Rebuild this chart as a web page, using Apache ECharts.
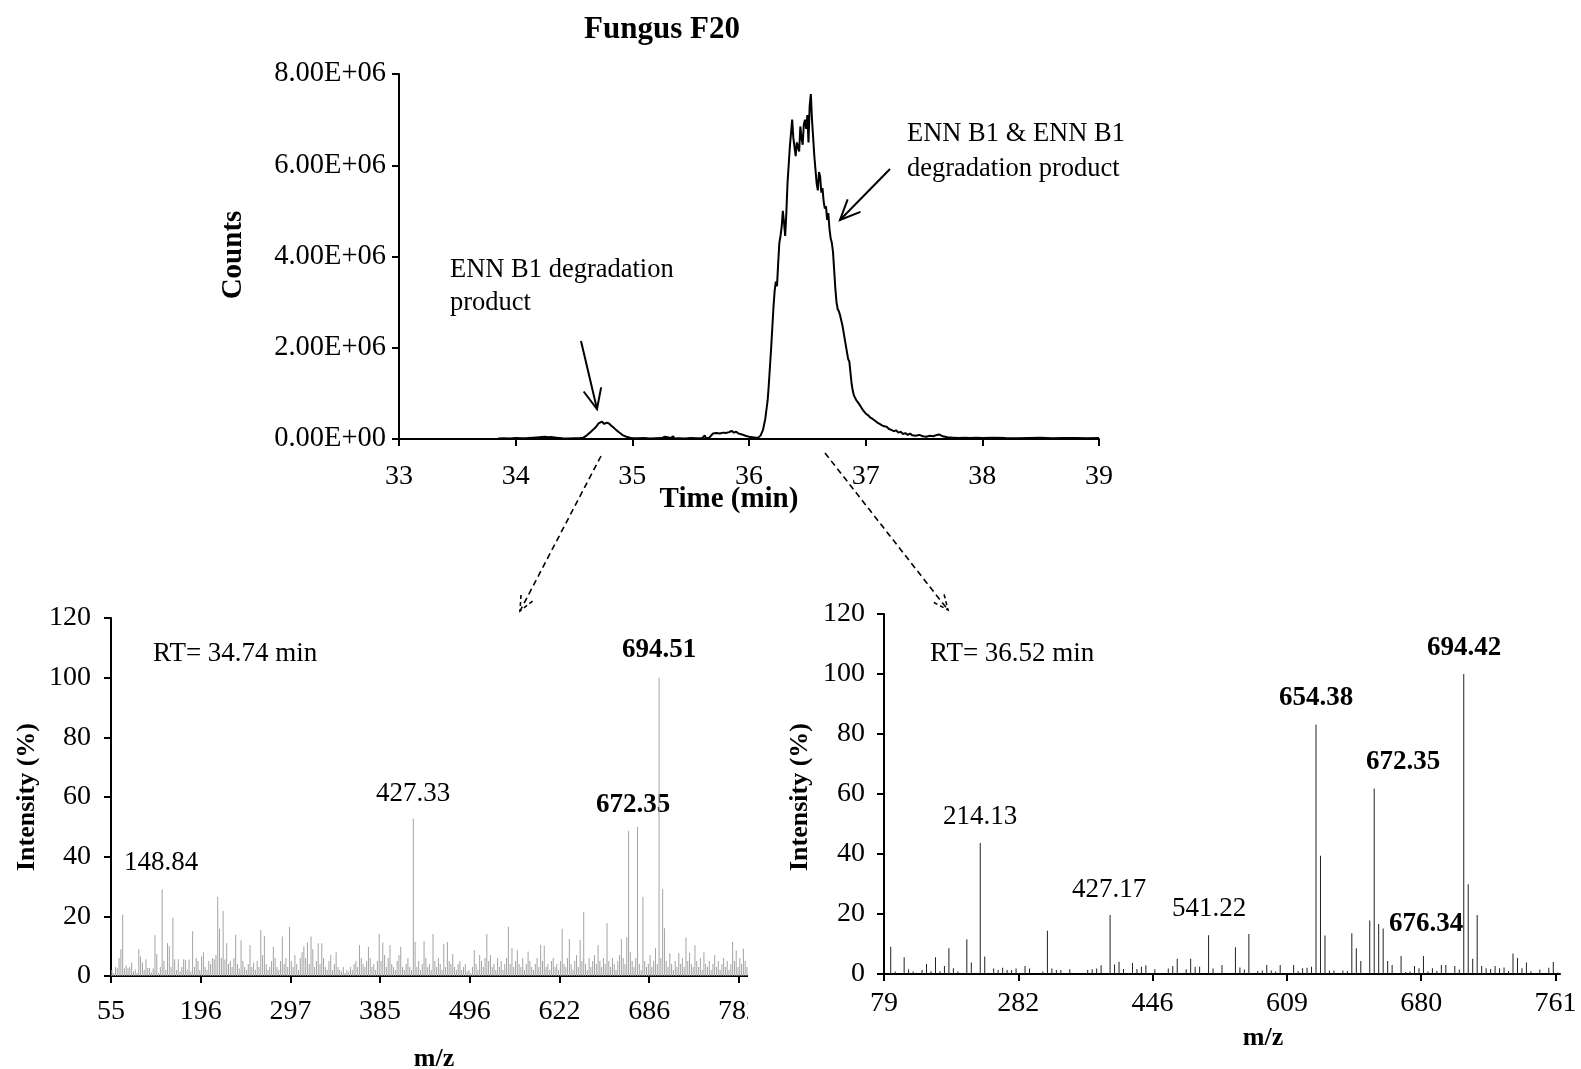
<!DOCTYPE html>
<html><head><meta charset="utf-8">
<script src="https://cdn.jsdelivr.net/npm/echarts@6/dist/echarts.min.js"></script>
<style>
html,body{margin:0;padding:0;background:#fff;}
#main{position:absolute;left:0;top:0;width:1581px;height:1069px;}
#left{position:absolute;left:0;top:560px;width:748px;height:509px;}
</style></head><body>
<div id="main"></div><div id="left"></div>
<script>
// ---------- DATA ----------
// Chromatogram (time in min, counts in millions)
const chromTime = [
33.85,33.90,33.95,34.00,34.05,34.10,34.15,34.20,34.25,34.28,34.30,34.35,34.40,34.45,34.50,34.55,
34.58,34.61,34.64,34.67,34.69,34.71,34.72,34.74,34.76,34.78,34.80,34.82,34.84,34.86,34.88,34.90,34.92,34.95,34.98,35.00,
35.05,35.10,35.15,35.20,35.25,35.28,35.29,35.33,35.35,35.36,35.40,35.45,35.50,35.55,35.60,35.62,35.63,35.66,
35.69,35.72,35.75,35.78,35.80,35.83,35.85,35.87,35.89,35.91,35.94,35.97,36.00,36.03,36.06,36.08,
36.10,36.12,36.14,36.16,36.17,36.18,36.19,36.20,36.21,36.22,36.23,36.24,36.25,36.26,36.27,36.28,36.29,36.30,36.31,36.32,
36.33,36.35,36.37,36.38,36.40,36.41,36.43,36.44,36.45,36.46,36.47,36.48,36.49,36.50,36.51,36.52,36.53,36.54,36.55,36.56,36.57,36.58,
36.59,36.60,36.61,36.62,36.63,36.64,36.65,36.66,36.67,36.68,36.69,36.70,36.71,36.72,36.73,36.74,36.75,36.76,36.77,36.78,
36.80,36.82,36.84,36.85,36.86,36.87,36.88,36.89,36.90,36.92,36.94,36.96,36.98,37.00,37.02,37.04,37.06,37.08,
37.10,37.12,37.14,37.16,37.18,37.20,37.22,37.24,37.26,37.28,37.30,37.32,37.34,37.36,37.38,37.40,37.43,37.46,37.49,37.52,
37.55,37.58,37.61,37.63,37.66,37.70,37.75,37.80,37.85,37.90,37.95,38.00,38.10,38.20,38.30,38.40,38.50,38.60,38.70,38.80,38.90,39.00];
const countsMillions = [
0.01,0.015,0.01,0.02,0.015,0.02,0.03,0.04,0.05,0.04,0.045,0.03,0.015,0.01,0.015,0.02,
0.03,0.08,0.15,0.22,0.27,0.34,0.30,0.38,0.33,0.36,0.34,0.29,0.25,0.20,0.16,0.12,0.08,0.05,0.03,0.02,
0.015,0.02,0.01,0.015,0.02,0.05,0.01,0.02,0.06,0.01,0.015,0.01,0.02,0.015,0.02,0.08,0.02,0.03,
0.12,0.13,0.12,0.14,0.13,0.15,0.18,0.14,0.16,0.12,0.10,0.07,0.05,0.04,0.03,0.03,
0.08,0.20,0.45,0.85,1.20,1.60,2.00,2.45,2.90,3.25,3.45,3.35,3.85,4.30,4.45,4.65,5.00,4.75,4.45,4.95,
5.60,6.40,7.00,6.60,6.20,6.50,6.30,6.85,6.60,6.45,6.90,7.00,6.80,7.10,6.50,7.30,7.56,7.00,6.60,6.20,5.90,5.60,
5.45,5.85,5.75,5.40,5.50,5.20,5.05,5.10,4.80,4.95,4.60,4.40,4.30,4.10,3.70,3.30,3.00,2.85,2.80,2.72,
2.50,2.20,1.90,1.75,1.70,1.45,1.20,1.05,0.95,0.85,0.78,0.70,0.62,0.56,0.52,0.47,0.44,0.40,
0.36,0.33,0.30,0.28,0.27,0.22,0.20,0.17,0.19,0.14,0.16,0.11,0.13,0.09,0.12,0.08,0.07,0.09,0.06,0.05,
0.07,0.06,0.09,0.10,0.06,0.04,0.03,0.02,0.03,0.02,0.025,0.02,0.03,0.02,0.015,0.02,0.025,0.015,0.02,0.02,0.015,0.02];
const topYLabels = ['0.00E+00','2.00E+06','4.00E+06','6.00E+06','8.00E+06'];

// Left spectrum (RT 34.74 min): relative intensity per ion, in axis order
const leftXLabels = ['55','196','297','385','496','622','686','782',''];
const leftIntensity = [
2,1,3,2.6,6,9,20.5,2.5,3.5,2.6,3,4.5,1.5,2.2,1,9,6.5,4.5,2,5.6,2.7,2.6,1.2,2.5,13.7,7.4,1,3,29,5.1,2,11,10,3,19.5,5.6,2,5.6,1.5,3,5.6,5.3,2,5.5,1.5,15,3,6,5,2,
6.5,8,3,2,5,4,6,5.6,7,26.6,15.8,6,21.8,5.5,11,4,5,3,6,13.8,4,2.5,12,5,3,2,4,10.4,3,4.5,2,5,3,15.4,7,13.4,4,2,3,5,9.8,6,3,2,5,13.2,4,6,3,16.4,
5,3,7,4,2,6,8,10,6,11.2,4,13.2,9,3,5,11,4,11,6,3,2,5,7,2,4,8,3,2,1.5,3,1,2,1.5,3,2,4,5,3,10.4,6,4,3,5,9.8,6,3,4,2,5,14,
5,11.2,7,3,6,10.4,4,3,2,5,7,9.8,3,2,4,6,3,2,52.7,11.5,3,5,2,4,11.7,6,3,4,2,14.1,5,3,6,4,2,10.7,3,11.4,5,4,7.4,3,2,4,5,2,3,4,1.5,2,
1,3,8.7,4,2,7,5,3,6,14.1,5,7,3,4,2,6,3,5,2,4,6,16.5,4,9.4,3,5,8.6,4,3,6,2,4,8.2,5,3,2,4,6,3,10.4,5,10.1,3,4,2,5,6,3,4,2,
5,15.8,4,3,6,12.4,4,2,5,7,3,12.1,5,21.5,4,2,6,3,5,7,4,10.4,5,3,6,4,17.8,5,3,6,4,2,5,7,12.3,6,4,13,48.6,8,5,3,6,50,4,2,26.6,5,3,4,
7,3,5,9.4,4,100,6,29.2,16,5,3,7.6,4,2,5,3,7.6,4,6,3,12.9,5,7.8,4,3,10.3,5,3,6,2,8,4,3,5,2,4,7,3,5,2,4,6,3,5,2,4,11.4,5,8.6,3,
6,4,9.1,5,3,7,4];

// Right spectrum (RT 36.52 min)
const rightXLabels = ['79','282','446','609','680','761'];
const rightIntensity = [
0,9.1,0.8,0,5.6,1.6,0.8,0,1.3,3.3,0.9,5.6,0.9,2.7,8.6,1.9,0.8,0,11.6,3.8,0,43.7,5.8,0,1.8,1.3,2.1,1.3,1.3,1.8,
0,2.7,1.8,0,0,0.8,14.4,1.8,1.3,1.3,0,1.6,0,0,0,1.3,1.6,1.8,2.9,0,19.7,3.2,4.1,1.7,0,3.7,1.7,2.4,2.9,0,
1.6,0,0,1.8,2.7,5.1,0,1.6,5.1,2.4,2.4,0,12.9,1.8,0,3,0,0,8.9,2.2,1.5,13.3,0,1,1.2,3,1.2,0.8,3,0,
0,3,1,1.9,2.1,2.4,83.2,39.4,12.8,1.2,1.2,0,1.2,1,13.6,8.6,4.3,0,17.8,61.8,16.7,15.2,4.3,3,0,6,0.7,0.8,2.7,1.9,
6,0.8,1.9,1,3,3,0,2.7,1.5,100,29.9,5.1,19.7,2.7,1.9,1.7,2.7,1.9,2.2,1,6.8,5.3,1.9,3.8,0.9,0,1.5,0,2.1,4,
0.5];

// ---------- RENDER ----------
const serif = '"Liberation Serif","Times New Roman",serif';
const black = '#000';
function axisLine(){return {show:true,onZero:false,lineStyle:{color:black,width:2}};}
function axisTick(len){return {show:true,length:len,inside:false,lineStyle:{color:black,width:2}};}

const main = echarts.init(document.getElementById('main'));

function txt(x,y,s,o){
  o=o||{};
  return {type:'text',x:x,y:y,z:100,rotation:o.rot||0,
    style:{text:s,fill:black,fontFamily:serif,fontSize:o.size||27,fontWeight:o.bold?'bold':'normal',
      align:o.align||'center',verticalAlign:'middle',textAlign:o.align||'center',textVerticalAlign:'middle'}};
}
function arrow(x1,y1,x2,y2,dashed){
  const a=Math.atan2(y2-y1,x2-x1), L=dashed?16:22, w=0.42;
  const h1=[x2-L*Math.cos(a-w),y2-L*Math.sin(a-w)], h2=[x2-L*Math.cos(a+w),y2-L*Math.sin(a+w)];
  const st={stroke:black,lineWidth:dashed?1.6:2,fill:null,lineDash:dashed?[6,4]:null};
  return [{type:'line',z:100,shape:{x1:x1,y1:y1,x2:x2,y2:y2},style:st},
          {type:'polyline',z:100,shape:{points:[h1,[x2,y2],h2]},style:{stroke:black,lineWidth:dashed?1.6:2,fill:null,lineDash:dashed?[4,3]:null}}];
}

const graphics = [
  txt(662,30,'Fungus F20',{bold:true,size:31}),
  txt(234,255,'Counts',{bold:true,size:29,rot:Math.PI/2}),
  txt(729,500,'Time (min)',{bold:true,size:29}),
  txt(450,270,'ENN B1 degradation',{align:'left',size:26.5}),
  txt(450,303,'product',{align:'left',size:26.5}),
  txt(907,134,'ENN B1 & ENN B1',{align:'left',size:26.5}),
  txt(907,169,'degradation product',{align:'left',size:26.5}),
  // left spectrum texts
  txt(27,797,'Intensity (%)',{bold:true,size:26,rot:Math.PI/2}),
  txt(434,1059,'m/z',{bold:true,size:26}),
  txt(153,654,'RT= 34.74 min',{align:'left',size:27}),
  txt(659,650,'694.51',{bold:true,size:27}),
  txt(633,805,'672.35',{bold:true,size:27}),
  txt(413,794,'427.33',{size:27}),
  txt(161,863,'148.84',{size:27}),
  // right spectrum texts
  txt(800,797,'Intensity (%)',{bold:true,size:26,rot:Math.PI/2}),
  txt(1263,1038,'m/z',{bold:true,size:26}),
  txt(930,654,'RT= 36.52 min',{align:'left',size:27}),
  txt(1464,648,'694.42',{bold:true,size:27}),
  txt(1316,698,'654.38',{bold:true,size:27}),
  txt(1403,762,'672.35',{bold:true,size:27}),
  txt(1426,924,'676.34',{bold:true,size:27}),
  txt(980,817,'214.13',{size:27}),
  txt(1109,890,'427.17',{size:27}),
  txt(1209,909,'541.22',{size:27})
].concat(arrow(581,341,597,409,false))
 .concat(arrow(890,169,840,220,false))
 .concat(arrow(601,456,520,611,true))
 .concat(arrow(825,453,948,610,true));

main.setOption({
  animation:false,
  backgroundColor:'transparent',
  grid:[
    {left:399,top:74,width:700,height:365,outerBoundsMode:'none',containLabel:false},
    {left:884,top:614,width:676,height:360,outerBoundsMode:'none',containLabel:false}
  ],
  xAxis:[
    {gridIndex:0,type:'value',min:33,max:39,interval:1,axisLine:axisLine(),axisTick:axisTick(7),
     axisLabel:{color:black,fontFamily:serif,fontSize:28,margin:24},splitLine:{show:false}},
    {gridIndex:1,type:'value',min:0,max:151,axisLine:axisLine(),
     axisTick:Object.assign(axisTick(7),{customValues:[0,30,60,90,120,150]}),
     axisLabel:{color:black,fontFamily:serif,fontSize:28,margin:16,customValues:[0,30,60,90,120,150],
       formatter:function(v){return rightXLabels[Math.round(v/30)]||'';}},splitLine:{show:false}}
  ],
  yAxis:[
    {gridIndex:0,type:'value',min:0,max:8,interval:2,axisLine:axisLine(),axisTick:axisTick(7),
     axisLabel:{color:black,fontFamily:serif,fontSize:28.5,margin:13,formatter:function(v){return topYLabels[Math.round(v/2)];}},
     splitLine:{show:false}},
    {gridIndex:1,type:'value',min:0,max:120,interval:20,axisLine:axisLine(),axisTick:axisTick(7),
     axisLabel:{color:black,fontFamily:serif,fontSize:28,margin:19},splitLine:{show:false}}
  ],
  series:[
    {type:'line',xAxisIndex:0,yAxisIndex:0,data:chromTime.map(function(t,i){return [t,countsMillions[i]];}),
     symbol:'none',lineStyle:{color:black,width:2},itemStyle:{color:black},smooth:false},
    {type:'bar',xAxisIndex:1,yAxisIndex:1,data:rightIntensity.map(function(v,i){return [i+0.5,v];}),
     barWidth:1,itemStyle:{color:'#222'}}
  ],
  graphic:graphics
});

const left = echarts.init(document.getElementById('left'));
left.setOption({
  animation:false,
  backgroundColor:'transparent',
  grid:{left:111,top:58,width:717.6,height:358,outerBoundsMode:'none',containLabel:false},
  xAxis:{type:'value',min:0,max:400,interval:50,axisLine:axisLine(),axisTick:axisTick(7),
    axisLabel:{color:black,fontFamily:serif,fontSize:28,margin:22,formatter:function(v){return leftXLabels[Math.round(v/50)]||'';}},
    splitLine:{show:false}},
  yAxis:{type:'value',min:0,max:120,interval:20,axisLine:axisLine(),axisTick:axisTick(7),
    axisLabel:{color:black,fontFamily:serif,fontSize:28,margin:20},splitLine:{show:false}},
  series:[{type:'bar',data:leftIntensity.map(function(v,i){return [i+0.5,v];}),barWidth:1,itemStyle:{color:'#a3a3a3'}}]
});
</script></body></html>
